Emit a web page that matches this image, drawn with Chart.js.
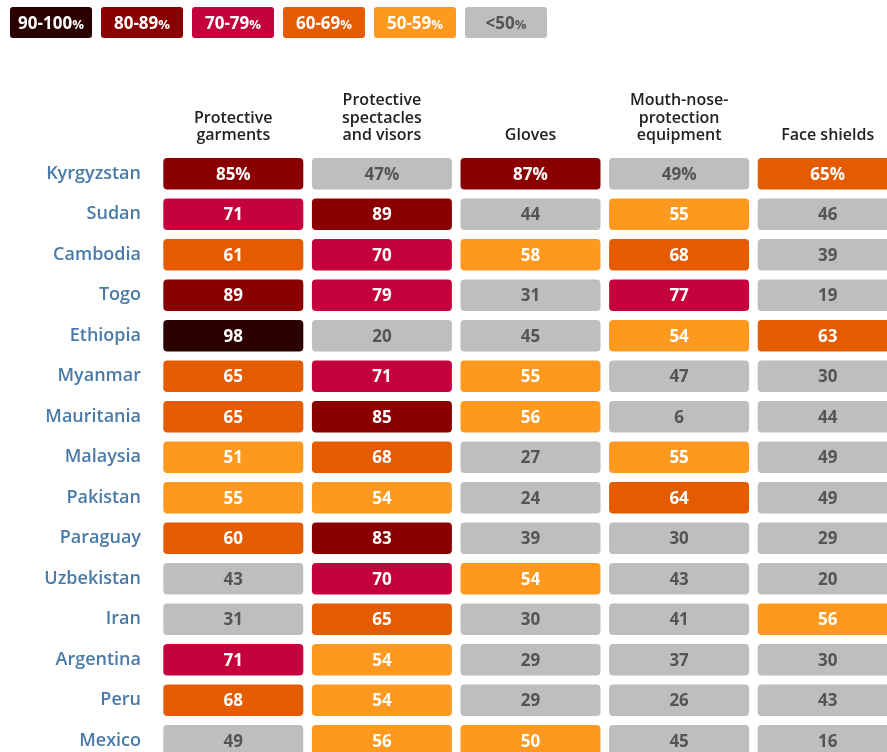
<!DOCTYPE html>
<html>
<head>
<meta charset="utf-8">
<script src="https://cdn.jsdelivr.net/npm/chart.js@4"></script>
<style>
  body { margin: 0; background: #fff; overflow: hidden; width: 887px; height: 752px; position: relative; font-family: "Open Sans", sans-serif; }
  .legend { position: absolute; top: 7px; left: 10px; display: flex; gap: 9px; z-index: 2; }
  .legend span { display: block; width: 82px; height: 31px; line-height: 31px; text-align: center; border-radius: 3px; color: #fff; font-weight: 700; font-size: 17px; }
  .legend small { font-size: 13px; font-weight: 700; }
  #ppe-chart { position: absolute; left: 0; top: 0; }
</style>
</head>
<body>
<div class="legend" id="legend"></div>
<canvas id="ppe-chart" width="902" height="761"></canvas>
<script>
"use strict";

const countries = ["Kyrgyzstan", "Sudan", "Cambodia", "Togo", "Ethiopia", "Myanmar", "Mauritania", "Malaysia",
    "Pakistan", "Paraguay", "Uzbekistan", "Iran", "Argentina", "Peru", "Mexico"];
const headers = [["Protective", "garments"], ["Protective", "spectacles", "and visors"], ["Gloves"],
    ["Mouth-nose-", "protection", "equipment"], ["Face shields"]];

const garments = [85, 71, 61, 89, 98, 65, 65, 51, 55, 60, 43, 31, 71, 68, 49];
const spectacles = [47, 89, 70, 79, 20, 71, 85, 68, 54, 83, 70, 65, 54, 54, 56];
const gloves = [87, 44, 58, 31, 45, 55, 56, 27, 24, 39, 54, 30, 29, 29, 50];
const mouthNose = [49, 55, 68, 77, 54, 47, 6, 55, 64, 30, 43, 41, 37, 26, 45];
const faceShields = [65, 46, 39, 19, 63, 30, 44, 49, 49, 29, 20, 56, 30, 43, 16];

const bandMins = [90, 80, 70, 60, 50, 0];
const bandLabels = ["90-100", "80-89", "70-79", "60-69", "50-59", "<50"];
const bandColors = ["#2a0000", "#8a0000", "#c4003d", "#e45b00", "#fd991e", "#bebebe"];

const FONT = "'Open Sans', sans-serif";
const columns = [garments, spectacles, gloves, mouthNose, faceShields];
const gap = 0.029; // space between cells, in column units

function colorFor(v) {
    return bandColors[bandMins.findIndex(b => v >= b)];
}

// html legend, boxes with the text inside
const legendEl = document.getElementById("legend");
bandLabels.forEach((lab, i) => {
    const txtColor = i === bandLabels.length - 1 ? "#555" : "#fff";
    legendEl.insertAdjacentHTML("beforeend",
        `<span style="background:${bandColors[i]};color:${txtColor}">${lab}<small>%</small></span>`);
});

const cellLabels = {
    id: "cellLabels",
    afterDatasetsDraw(chart) {
        const ctx = chart.ctx;
        ctx.save();
        ctx.font = `700 17px ${FONT}`;
        ctx.textAlign = "center";
        ctx.textBaseline = "middle";
        chart.data.datasets.forEach((ds, d) => {
            chart.getDatasetMeta(d).data.forEach((bar, i) => {
                const v = ds.data[i].v;
                const p = bar.getCenterPoint();
                ctx.fillStyle = v < 50 ? "#555555" : "#ffffff";
                ctx.fillText(i === 0 ? v + "%" : String(v), p.x, p.y + 1);
            });
        });
        ctx.restore();
    }
};

const datasets = columns.map((vals, c) => ({
    label: headers[c].join(" "),
    data: vals.map((v, i) => ({ y: countries[i], x: [c + gap, c + 1 - gap], v })),
    backgroundColor: (ctx) => ctx.raw ? colorFor(ctx.raw.v) : "#bebebe",
    borderRadius: 4,
    borderSkipped: false,
    grouped: false,
    barPercentage: 0.78,
    categoryPercentage: 1
}));

new Chart(document.getElementById("ppe-chart"), {
    type: "bar",
    data: { labels: countries, datasets },
    plugins: [cellLabels],
    options: {
        indexAxis: "y",
        responsive: false,
        animation: false,
        layout: { padding: 0 },
        plugins: { legend: { display: false }, tooltip: { enabled: false } },
        scales: {
            x: {
                type: "linear",
                position: "top",
                min: 0,
                max: 5,
                grid: { display: false },
                border: { display: false },
                afterBuildTicks: (scale) => {
                    scale.ticks = headers.map((h, i) => ({ value: i + 0.5 }));
                },
                afterFit: (scale) => { scale.height = 153.5; },
                ticks: {
                    autoSkip: false,
                    maxRotation: 0,
                    padding: 1,
                    color: "#222",
                    font: { family: FONT, size: 16, weight: 600, lineHeight: 1.094 },
                    callback: (value, index) => headers[index]
                }
            },
            y: {
                type: "category",
                grid: { display: false },
                border: { display: false },
                afterFit: (scale) => {
                    scale.width = 159;
                    // don't let the label padding shrink the rows
                    scale.paddingTop = 0;
                    scale.paddingBottom = 0;
                },
                ticks: {
                    padding: 10,
                    color: "#4a7aa8",
                    font: { family: FONT, size: 18, weight: 600 }
                }
            }
        }
    }
});
</script>
</body>
</html>
